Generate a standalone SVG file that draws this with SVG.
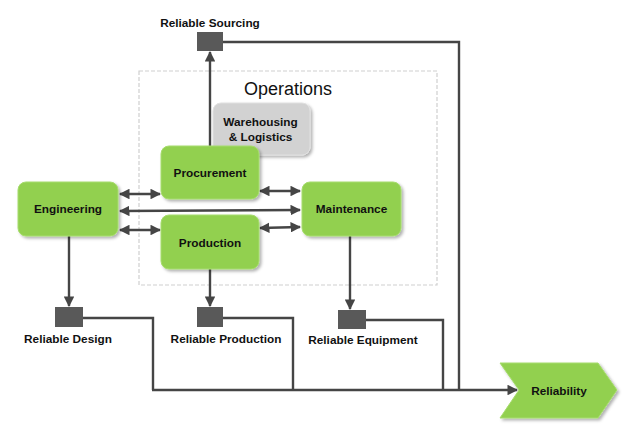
<svg xmlns="http://www.w3.org/2000/svg" width="640" height="436" viewBox="0 0 640 436">
<defs>
<style>
.lbl{font-family:"Liberation Sans",Arial,sans-serif;font-weight:bold;font-size:11.8px;fill:#111;text-anchor:middle}
.node{fill:#92d050;stroke:#a6dc6c;stroke-width:1}
.gray{fill:#d2d2d2;stroke:#e0e0e0;stroke-width:1}
.sq{fill:#595959}
.ln{fill:none;stroke:#454545;stroke-width:2.4}
.dbl{fill:none;stroke:#454545;stroke-width:2.4;marker-start:url(#ah);marker-end:url(#ah)}
.one{fill:none;stroke:#454545;stroke-width:2.4;marker-end:url(#ah)}
</style>
<marker id="ah" viewBox="0 0 10 10" refX="9" refY="5" markerWidth="4.4" markerHeight="4.4" orient="auto-start-reverse" markerUnits="strokeWidth">
<path d="M0,0 L10,5 L0,10 z" fill="#454545"/>
</marker>
<filter id="sh" x="-10%" y="-10%" width="125%" height="130%">
<feDropShadow dx="2" dy="2" stdDeviation="1.5" flood-color="#000" flood-opacity="0.3"/>
</filter>
</defs>
<rect width="640" height="436" fill="#fff"/>

<g id="operations">
<rect x="139" y="71" width="298" height="214" fill="none" stroke="#cfcfcf" stroke-width="1.2" stroke-dasharray="4,2"/>
<text x="288" y="95" style="font-family:'Liberation Sans',Arial,sans-serif;font-size:18px;fill:#111;text-anchor:middle">Operations</text>
</g>

<g id="connectors">
<path class="one" d="M210,146 L210,52"/>
<path class="ln" d="M223,42 L459,42 L459,390"/>
<path class="dbl" d="M120,194 L160,194"/>
<path class="dbl" d="M120,211 L300,210"/>
<path class="dbl" d="M120,230 L160,230"/>
<path class="dbl" d="M260,191 L300,191"/>
<path class="dbl" d="M260,228 L300,227"/>
<path class="one" d="M69,236 L69,306"/>
<path class="one" d="M210,269 L210,306"/>
<path class="one" d="M350,236 L350,309"/>
<path class="ln" d="M83,318 L153,318 L153,390"/>
<path class="ln" d="M223,318 L293,318 L293,390"/>
<path class="ln" d="M366,320 L443,320 L443,390"/>
<path class="one" d="M152,390 L517,390"/>
</g>

<g id="warehousing">
<rect class="gray" x="213" y="103" width="97" height="52" rx="8" filter="url(#sh)"/>
<text class="lbl" x="260.5" y="126">Warehousing</text>
<text class="lbl" x="260.5" y="141">&amp; Logistics</text>
</g>

<g id="procurement">
<rect class="node" x="161" y="146" width="98" height="53" rx="8" filter="url(#sh)"/>
<text class="lbl" x="210" y="177">Procurement</text>
</g>

<g id="production">
<rect class="node" x="161" y="215" width="98" height="54" rx="8" filter="url(#sh)"/>
<text class="lbl" x="210" y="247">Production</text>
</g>

<g id="engineering">
<rect class="node" x="18" y="182" width="100" height="54" rx="8" filter="url(#sh)"/>
<text class="lbl" x="68" y="213">Engineering</text>
</g>

<g id="maintenance">
<rect class="node" x="302" y="182" width="99" height="54" rx="8" filter="url(#sh)"/>
<text class="lbl" x="351.5" y="213">Maintenance</text>
</g>

<g id="reliable-sourcing">
<rect class="sq" x="197" y="32" width="26" height="19"/>
<text class="lbl" x="210" y="27">Reliable Sourcing</text>
</g>

<g id="reliable-design">
<rect class="sq" x="55" y="307" width="28" height="20"/>
<text class="lbl" x="68" y="343">Reliable Design</text>
</g>

<g id="reliable-production">
<rect class="sq" x="197" y="307" width="26" height="20"/>
<text class="lbl" x="226" y="343">Reliable Production</text>
</g>

<g id="reliable-equipment">
<rect class="sq" x="338" y="310" width="28" height="19"/>
<text class="lbl" x="363" y="344">Reliable Equipment</text>
</g>

<g id="reliability">
<polygon points="500,363 598,363 617,390 598,418 500,418 519,390" fill="#92d050" stroke="#a6dc6c" stroke-width="1" filter="url(#sh)"/>
<text class="lbl" x="559" y="395">Reliability</text>
</g>
</svg>
